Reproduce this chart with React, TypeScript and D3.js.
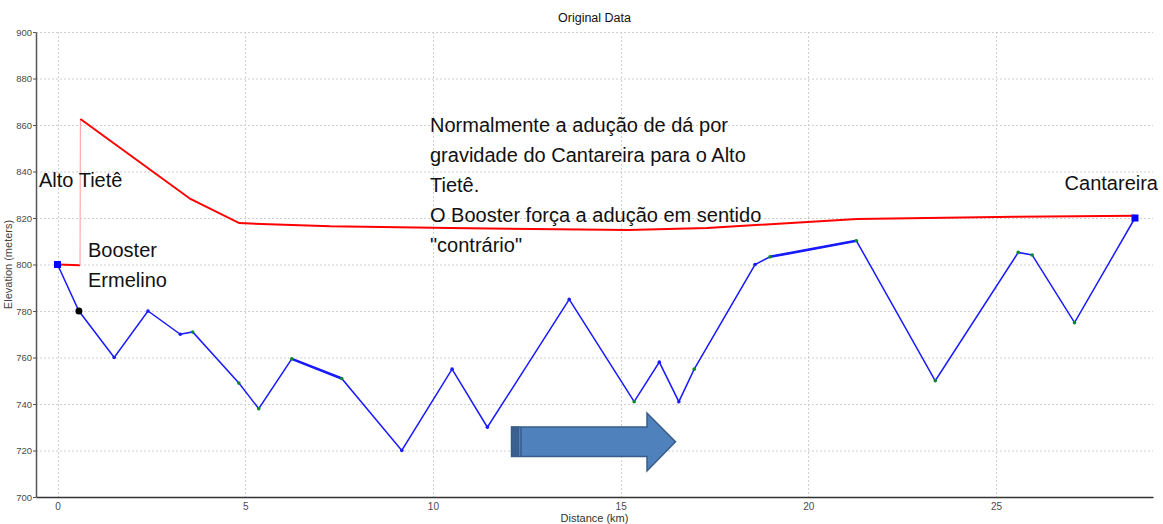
import { useEffect, useRef } from "react"
import * as d3 from "d3"

const W = 1163
const H = 524

// ground profile (km, m)
const groundDist = [0, 0.57, 1.51, 2.41, 3.27, 3.6, 4.83, 5.36, 6.24, 7.57, 9.17, 10.51, 11.45, 13.63, 15.36, 16.03, 16.55, 16.96, 18.58, 18.98, 21.28, 23.38, 25.59, 25.96, 27.09, 28.7]
const groundElev = [800, 780, 760, 780, 770, 771, 749, 738, 759.4, 751, 720, 755, 730, 785, 741, 758, 741, 755, 800, 803.3, 810.2, 750, 805.2, 804.1, 775, 820]
const greenNodes = [3.6, 4.83, 5.36, 6.24, 7.57, 15.36, 16.96, 18.98, 21.28, 23.38, 25.59, 25.96, 27.09]

// hydraulic grade line
const hglDist = [0, 0.6, 0.61, 3.54, 4.84, 7.26, 10.45, 15.2, 17.3, 21.3, 25.5, 28.7]
const hglElev = [800, 799.7, 862.6, 828.2, 817.8, 816.4, 815.7, 814.8, 815.7, 819.6, 820.5, 821]

const xTicks = [0, 5, 10, 15, 20, 25]
const yTicks = [700, 720, 740, 760, 780, 800, 820, 840, 860, 880, 900]

const noteLines = [
  "Normalmente a adução de dá por",
  "gravidade do Cantareira para o Alto",
  "Tietê.",
  "O Booster força a adução em sentido",
  "\"contrário\"",
]

export default function App() {
  const svgRef = useRef<SVGSVGElement>(null)

  useEffect(() => {
    const svg = d3.select(svgRef.current)
    svg.selectAll("*").remove()

    const left = 36
    const right = 1153
    const top = 32
    const bottom = 497

    const x = d3.scaleLinear().domain([-0.573, 29.18]).range([left, right])
    const y = d3.scaleLinear().domain([700, 900]).range([bottom, top])

    // grid
    const grid = svg.append("g")
    grid.selectAll("line.h")
      .data(yTicks.filter((t) => t > 700))
      .enter()
      .append("line")
      .attr("x1", left)
      .attr("x2", right)
      .attr("y1", (d) => y(d) + 0.5)
      .attr("y2", (d) => y(d) + 0.5)
      .attr("stroke", "#cfcfcf")
      .attr("stroke-dasharray", "2,2")
    grid.selectAll("line.v")
      .data(xTicks)
      .enter()
      .append("line")
      .attr("x1", (d) => Math.round(x(d)) + 0.5)
      .attr("x2", (d) => Math.round(x(d)) + 0.5)
      .attr("y1", top)
      .attr("y2", bottom)
      .attr("stroke", "#cfcfcf")
      .attr("stroke-dasharray", "2,2")

    // axes
    const yAxis = svg.append("g")
      .attr("transform", `translate(${left},0)`)
      .call(d3.axisLeft(y).tickValues(yTicks).tickSize(3).tickSizeOuter(0))
    yAxis.select(".domain").attr("stroke", "#555").attr("stroke-width", 1.5)
    yAxis.selectAll(".tick line").attr("stroke", "#555")
    yAxis.selectAll(".tick text")
      .attr("font-family", "Arial, 'Liberation Sans', sans-serif")
      .attr("font-size", 9.5)
      .attr("fill", "#4a4a4a")
      .attr("x", -4)

    const xAxis = svg.append("g")
      .attr("transform", `translate(0,${bottom})`)
      .call(d3.axisBottom(x).tickValues(xTicks).tickSize(0).tickSizeOuter(0).tickPadding(6))
    xAxis.select(".domain").attr("stroke", "#333").attr("stroke-width", 1.5)
    xAxis.selectAll(".tick text")
      .attr("font-family", "Arial, 'Liberation Sans', sans-serif")
      .attr("font-size", 10)
      .attr("fill", "#4a4a4a")

    // titles
    svg.append("text")
      .attr("x", (left + right) / 2)
      .attr("y", 22)
      .attr("text-anchor", "middle")
      .attr("font-family", "Arial, 'Liberation Sans', sans-serif")
      .attr("font-size", 12.5)
      .attr("fill", "#111")
      .text("Original Data")
    svg.append("text")
      .attr("x", (left + right) / 2)
      .attr("y", 522)
      .attr("text-anchor", "middle")
      .attr("font-family", "Arial, 'Liberation Sans', sans-serif")
      .attr("font-size", 11)
      .attr("fill", "#333")
      .text("Distance (km)")
    svg.append("text")
      .attr("transform", `translate(12,${(top + bottom) / 2}) rotate(-90)`)
      .attr("text-anchor", "middle")
      .attr("font-family", "Arial, 'Liberation Sans', sans-serif")
      .attr("font-size", 11)
      .attr("fill", "#444")
      .text("Elevation (meters)")

    // hydraulic grade line
    const line = d3.line<number>()
    const hgl = hglDist.map((d, i) => [x(d), y(hglElev[i])] as [number, number])
    svg.append("path")
      .attr("d", line(hgl.slice(0, 2) as any))
      .attr("fill", "none")
      .attr("stroke", "#ff0000")
      .attr("stroke-width", 2)
    svg.append("path")
      .attr("d", line(hgl.slice(1, 3) as any))
      .attr("fill", "none")
      .attr("stroke", "#ffaaaa")
      .attr("stroke-width", 1.2)
    svg.append("path")
      .attr("d", line(hgl.slice(2) as any))
      .attr("fill", "none")
      .attr("stroke", "#ff0000")
      .attr("stroke-width", 2)

    // ground profile
    const ground = groundDist.map((d, i) => [x(d), y(groundElev[i])] as [number, number])
    svg.append("path")
      .attr("d", line(ground as any))
      .attr("fill", "none")
      .attr("stroke", "#1a1aff")
      .attr("stroke-width", 1.5)
    // doubled pipe segments
    ;[[8, 9], [19, 20]].forEach(([a, b]) => {
      svg.append("line")
        .attr("x1", ground[a][0]).attr("y1", ground[a][1])
        .attr("x2", ground[b][0]).attr("y2", ground[b][1])
        .attr("stroke", "#1a1aff")
        .attr("stroke-width", 2.6)
    })

    svg.selectAll("circle.node")
      .data(groundDist.slice(2, -1))
      .enter()
      .append("circle")
      .attr("cx", (d) => x(d))
      .attr("cy", (d) => y(groundElev[groundDist.indexOf(d)]))
      .attr("r", 1.8)
      .attr("fill", (d) => (greenNodes.includes(d) ? "#0a8a2a" : "#1a1aff"))

    // black junction
    svg.append("circle")
      .attr("cx", x(groundDist[1]))
      .attr("cy", y(groundElev[1]))
      .attr("r", 3.5)
      .attr("fill", "#000")

    // reservoirs
    ;[0, groundDist.length - 1].forEach((i) => {
      svg.append("rect")
        .attr("x", x(groundDist[i]) - 3.5)
        .attr("y", y(groundElev[i]) - 3.5)
        .attr("width", 7)
        .attr("height", 7)
        .attr("fill", "#0000ff")
    })

    // annotations
    const big = (tx: number, ty: number, s: string, anchor = "start") =>
      svg.append("text")
        .attr("x", tx)
        .attr("y", ty)
        .attr("text-anchor", anchor)
        .attr("font-family", "Arial, 'Liberation Sans', sans-serif")
        .attr("font-size", 20)
        .attr("fill", "#111")
        .text(s)

    big(39, 187, "Alto Tietê")
    big(88, 257, "Booster")
    big(88, 287, "Ermelino")
    big(1158, 190, "Cantareira", "end")
    noteLines.forEach((s, i) => big(430, 132 + i * 30, s))

    // direction arrow
    const ax0 = 511.5
    const ax1 = 647
    const tip = 675.5
    const bodyTop = 427
    const bodyBot = 456.5
    const headTop = 413
    const headBot = 471
    const cy = (bodyTop + bodyBot) / 2
    svg.append("polygon")
      .attr("points", [
        [ax0, bodyTop], [ax1, bodyTop], [ax1, headTop], [tip, cy],
        [ax1, headBot], [ax1, bodyBot], [ax0, bodyBot],
      ].map((p) => p.join(",")).join(" "))
      .attr("fill", "#4f81bd")
      .attr("stroke", "#385d8a")
      .attr("stroke-width", 1.5)
    svg.append("rect")
      .attr("x", ax0)
      .attr("y", bodyTop)
      .attr("width", 7)
      .attr("height", bodyBot - bodyTop)
      .attr("fill", "#3a6090")
      .attr("stroke", "#385d8a")
    svg.append("line")
      .attr("x1", ax0 + 9.5).attr("x2", ax0 + 9.5)
      .attr("y1", bodyTop).attr("y2", bodyBot)
      .attr("stroke", "#385d8a")
      .attr("stroke-width", 1.5)
  }, [])

  return (
    <svg
      ref={svgRef}
      width={W}
      height={H}
      style={{ position: "absolute", left: 0, top: 0, background: "#fff" }}
    />
  )
}
